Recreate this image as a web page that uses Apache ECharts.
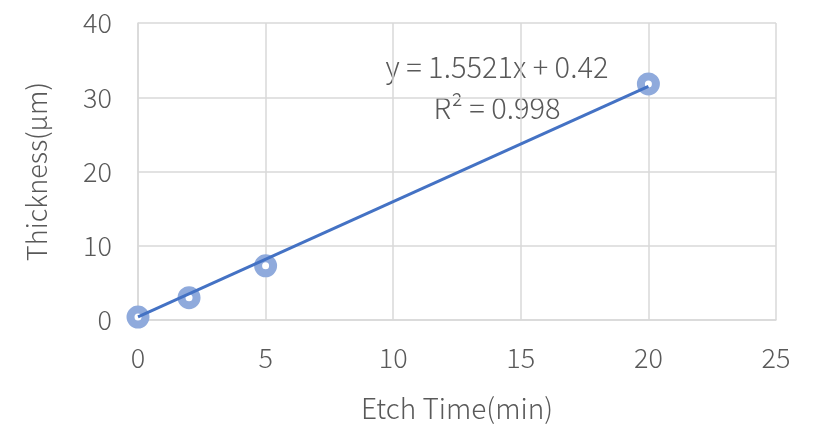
<!DOCTYPE html>
<html><head><meta charset="utf-8">
<script src="https://cdn.jsdelivr.net/npm/echarts@6/dist/echarts.min.js"></script>
<style>html,body{margin:0;padding:0;background:#fff}#c{width:818px;height:429px}</style>
</head><body><div id="c"></div>
<script>
const etchTime = [0, 2, 5, 20];
const thickness = [0.4, 3.0, 7.3, 31.8];
const trendSlope = 1.5521;
const trendIntercept = 0.42;
const trendX = [0, 20];
const equationText = 'y = 1.5521x + 0.42';
const r2Text = 'R² = 0.998';

const font = '"Noto Sans CJK SC", "Noto Sans", sans-serif';
const fs = 27;
const txt = {fontSize: fs, color: '#595959', fontFamily: font, fontWeight: 300};
const chart = echarts.init(document.getElementById('c'));
chart.setOption({
  animation: false,
  grid: {left: 138, right: 42, top: 23, bottom: 109},
  xAxis: {
    type: 'value', min: 0, max: 25, interval: 5,
    name: 'Etch Time(min)', nameLocation: 'middle', nameGap: 74,
    nameTextStyle: Object.assign({}, txt, {fontSize: 28}),
    axisLine: {show: true, lineStyle: {color: '#d9d9d9', width: 1.5}},
    axisTick: {show: false},
    axisLabel: Object.assign({margin: 24}, txt),
    splitLine: {show: true, lineStyle: {color: '#d9d9d9', width: 1.5}}
  },
  yAxis: {
    type: 'value', min: 0, max: 40, interval: 10,
    name: 'Thickness(μm)', nameLocation: 'middle', nameGap: 88, nameRotate: 90,
    nameTextStyle: txt,
    axisLine: {show: true, lineStyle: {color: '#d9d9d9', width: 1.5}},
    axisTick: {show: false},
    axisLabel: Object.assign({margin: 26}, txt),
    splitLine: {show: true, lineStyle: {color: '#d9d9d9', width: 1.5}}
  },
  series: [
    {
      type: 'scatter',
      data: etchTime.map((x, i) => [x, thickness[i]]),
      symbol: 'circle', symbolSize: 15,
      itemStyle: {color: '#ffffff', borderColor: '#8faadc', borderWidth: 8, opacity: 1},
      z: 2
    },
    {
      type: 'line',
      data: trendX.map(x => [x, trendSlope * x + trendIntercept]),
      showSymbol: false, symbol: 'none',
      lineStyle: {color: '#4472c4', width: 3},
      z: 3
    }
  ],
  graphic: [
    {type: 'text', x: 497, y: 67, style: {text: equationText, fontSize: 29, fontFamily: font, fontWeight: 300, fill: '#595959', align: 'center', verticalAlign: 'middle'}},
    {type: 'text', x: 497, y: 108, style: {text: r2Text, fontSize: 29, fontFamily: font, fontWeight: 300, fill: '#595959', align: 'center', verticalAlign: 'middle'}}
  ]
});
</script></body></html>
